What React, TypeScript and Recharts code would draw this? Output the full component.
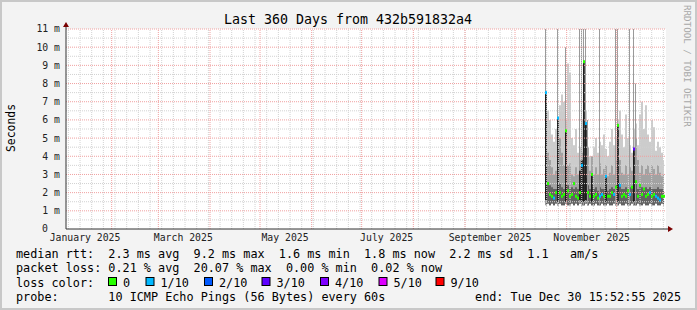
import React from 'react';
import { ComposedChart, Area, Bar, Scatter, XAxis, YAxis, CartesianGrid, ReferenceLine, ReferenceDot } from 'recharts';

// x = days since start of the 360-day window
const days = [288.0, 289.2, 290.4, 291.6, 292.8, 294.0, 295.2, 296.4, 297.6, 298.8,
  300.0, 301.2, 302.4, 303.6, 304.8, 306.0, 307.2, 308.4, 309.6, 310.8,
  312.0, 313.2, 314.4, 315.6, 316.8, 318.0, 319.2, 320.4, 321.6, 322.8,
  324.0, 325.2, 326.4, 327.6, 328.8, 330.0, 331.2, 332.4, 333.6, 334.8,
  336.0, 337.2, 338.4, 339.6, 340.8, 342.0, 343.2, 344.4, 345.6, 346.8,
  348.0, 349.2, 350.4, 351.6, 352.8, 354.0, 355.2, 356.4, 357.6, 358.8];

// smoke (ms)
const smokeLow = [1.3, 1.4, 1.3, 1.4, 1.3, 1.4, 1.3, 1.4, 1.3, 1.3,
  1.4, 1.3, 1.3, 1.4, 1.3, 1.4, 1.3, 1.4, 1.3, 1.3,
  1.4, 1.3, 1.4, 1.3, 1.3, 1.4, 1.3, 1.3, 1.4, 1.3,
  1.3, 1.4, 1.3, 1.3, 1.4, 1.3, 1.3, 1.4, 1.3, 1.3,
  1.4, 1.3, 1.3, 1.4, 1.3, 1.3, 1.4, 1.3, 1.3, 1.4,
  1.3, 1.3, 1.4, 1.3, 1.3, 1.4, 1.3, 1.3, 1.4, 1.3];
const smokeLight = [6.5, 6.5, 6.0, 5.2, 4.8, 5.5, 4.5, 6.8, 7.4, 7.0,
  6.0, 9.1, 8.6, 5.0, 4.6, 5.5, 4.2, 4.5, 6.0, 8.0,
  6.5, 4.5, 4.0, 3.8, 4.5, 5.0, 4.2, 4.8, 4.6, 5.2,
  4.4, 4.0, 4.8, 5.5, 4.6, 5.0, 6.0, 6.5, 5.2, 4.5,
  6.3, 5.0, 4.6, 4.2, 5.5, 5.8, 4.6, 6.3, 7.0, 5.5,
  6.8, 5.2, 4.8, 6.0, 5.6, 4.3, 4.8, 4.5, 4.2, 3.8];
const smokeMid = [4.0, 4.2, 3.8, 3.4, 3.0, 3.2, 3.6, 5.0, 4.2, 3.5,
  4.5, 3.5, 3.6, 3.0, 2.9, 3.4, 3.0, 3.8, 4.2, 5.5,
  4.8, 4.5, 3.2, 4.0, 3.0, 3.4, 3.0, 3.6, 3.0, 3.3,
  3.5, 2.9, 3.1, 3.5, 3.0, 3.8, 4.5, 3.8, 3.1, 3.0,
  3.5, 3.0, 3.4, 3.2, 4.2, 5.0, 3.8, 3.1, 3.5, 3.0,
  3.3, 3.5, 3.1, 3.5, 3.3, 3.0, 3.5, 3.1, 2.9, 3.0];
const smokeSpike = [11, null, null, null, null, null, 11, null, null, null,
  10, null, null, null, null, null, null, 11, 11, 11,
  11, 6.0, null, null, null, null, null, 11, null, null,
  null, null, null, null, null, 11, 11, null, null, null,
  null, null, 11, null, 11, 8.0, null, null, null, null,
  null, null, null, null, null, null, null, null, null, null];
const smokeDark = [2.6, 2.5, 2.4, 2.3, 2.2, 2.2, 2.4, 2.5, 2.3, 2.2,
  2.6, 2.4, 2.2, 2.3, 2.2, 2.3, 2.2, 2.4, 2.6, 3.0,
  2.8, 2.4, 2.2, 2.3, 2.2, 2.3, 2.1, 2.3, 2.2, 2.2,
  2.3, 2.1, 2.2, 2.3, 2.2, 2.5, 2.7, 2.5, 2.2, 2.2,
  2.3, 2.2, 2.3, 2.3, 2.6, 2.5, 2.2, 2.3, 2.3, 2.2,
  2.3, 2.2, 2.3, 2.2, 2.2, 2.2, 2.3, 2.2, 2.2, 2.1];
const coreLow = [1.6, null, null, null, null, null, 1.5, null, null, null,
  1.5, null, null, null, null, null, null, 1.6, 1.5, 1.5,
  1.6, null, null, 1.5, null, null, null, null, null, null,
  1.5, null, null, null, null, null, 1.5, null, null, null,
  null, null, null, null, 1.5, null, null, null, null, null,
  null, null, null, null, null, null, null, null, null, null];
const coreHigh = [7.5, null, null, null, null, null, 6.1, null, null, null,
  5.4, null, null, null, null, null, null, 3.2, 3.8, 9.2,
  5.8, null, null, 3.0, null, null, null, null, null, null,
  2.9, null, null, null, null, null, 5.7, null, null, null,
  null, null, null, null, 4.4, null, null, null, null, null,
  null, null, null, null, null, null, null, null, null, null];

const medianRtt = [7.5, 2.5, 1.9, 1.8, 1.7, 2.0, 6.1, 2.0, 1.8, 1.9,
  5.4, 2.1, 1.8, 1.9, 2.5, 1.8, 1.7, 2.0, 3.5, 9.2,
  5.8, 2.0, 1.8, 3.0, 1.8, 1.9, 1.7, 1.8, 1.9, 1.8,
  2.9, 1.8, 1.8, 2.0, 1.9, 2.3, 5.7, 2.4, 1.8, 1.9,
  1.8, 2.1, 1.9, 2.3, 4.4, 2.6, 1.8, 2.4, 1.9, 2.2,
  1.8, 1.9, 2.0, 1.8, 1.9, 1.8, 1.7, 1.6, 1.8, 1.8];
// index into lossColors
const lossLevel = [1, 0, 0, 0, 1, 0, 1, 0, 0, 0,
  0, 0, 0, 0, 0, 0, 0, 0, 1, 0,
  1, 0, 0, 0, 0, 0, 0, 1, 1, 0,
  1, 0, 0, 0, 1, 0, 0, 1, 0, 0,
  0, 0, 1, 0, 3, 0, 0, 0, 0, 0,
  0, 0, 1, 0, 0, 1, 1, 1, 0, 0];

const lossColors = ['#26ff00', '#00b8ff', '#0059ff', '#5e00ff', '#7e00ff', '#dd00ff', '#ff0000'];
const lossLabels = ['0', '1/10', '2/10', '3/10', '4/10', '5/10', '9/10'];

const yTicks = [0, 1, 2, 3, 4, 5, 6, 7, 8, 9, 10, 11];
const yHalf = [0.5, 1.5, 2.5, 3.5, 4.5, 5.5, 6.5, 7.5, 8.5, 9.5, 10.5];
const monthStarts = [27.4, 55.4, 86.4, 116.4, 147.4, 177.4, 208.4, 239.4, 269.4, 300.4, 330.4];
const weekLines = Array.from({ length: 52 }, (_, k) => 1.42 + 7 * k);
const monthLabelDays = [11.42, 70.4, 131.4, 192.4, 254.4, 315.4];
const monthLabels = ['January 2025', 'March 2025', 'May 2025', 'July 2025', 'September 2025', 'November 2025'];

const legendRtt = 'median rtt:  2.3 ms avg  9.2 ms max  1.6 ms min  1.8 ms now  2.2 ms sd  1.1   am/s';
const legendLoss = 'packet loss: 0.21 % avg  20.07 % max  0.00 % min  0.02 % now';
const probeText = 'probe:       10 ICMP Echo Pings (56 Bytes) every 60s';
const endText = 'end: Tue Dec 30 15:52:55 2025';
const titleText = 'Last 360 Days from 432b591832a4';

const W = 697;
const H = 310;
const mono = '"DejaVu Sans Mono", monospace';
const boxX = [108, 145.5, 204, 261.5, 320, 378.5, 435.5];

const YTick = (p: any) => {
  const v = p.payload.value;
  const label = v === 0 ? '0' : `${v} m`;
  const x = v === 0 ? p.x - 12 : p.x;
  return (
    <text x={x} y={p.y} dy="0.355em" textAnchor="end" fontFamily={mono} fontSize={9.8} fill="#222222">
      {label}
    </text>
  );
};

export default function App() {
  const table = days.map((day, i) => ({
    day,
    lo: smokeLow[i],
    light: smokeLight[i],
    mid: smokeMid[i],
    spike: smokeSpike[i],
    dark: smokeDark[i],
    coreLo: coreLow[i],
    coreHi: coreHigh[i],
  }));
  const medPts = days.map((day, i) => ({ day, med: medianRtt[i], color: lossColors[lossLevel[i]] }));

  return (
    <div style={{ position: 'absolute', left: 0, top: 0, width: W, height: H, background: '#f3f3f3', overflow: 'hidden' }}>
      <ComposedChart width={W} height={H} data={table} margin={{ top: 29, right: 31, bottom: 51, left: 10 }}>
        <CartesianGrid horizontal={false} vertical={false} fill="#ffffff" stroke="none" />
        <XAxis
          type="number"
          dataKey="day"
          domain={[0, 360]}
          ticks={monthLabelDays}
          interval={0}
          tickFormatter={(v) => monthLabels[monthLabelDays.indexOf(v)] ?? ''}
          tickLine={false}
          tickSize={0}
          tickMargin={5.5}
          axisLine={{ stroke: '#333333' }}
          tick={{ fontFamily: mono, fontSize: 9.8, fill: '#222222' }}
          height={30}
          allowDataOverflow
        />
        <XAxis xAxisId="spk" type="number" dataKey="day" domain={[0, 360]} hide allowDataOverflow />
        <YAxis
          type="number"
          domain={[0, 11]}
          ticks={yTicks}
          interval={0}
          tick={YTick}
          tickLine={false}
          tickSize={0}
          tickMargin={6}
          axisLine={{ stroke: '#333333' }}
          width={56}
          allowDataOverflow
        />
        <Area type="step" dataKey={(d) => [d.lo, d.light]} stroke="none" fill="#cccccc" fillOpacity={1} isAnimationActive={false} dot={false} activeDot={false} />
        <Area type="step" dataKey={(d) => [d.lo, d.mid]} stroke="none" fill="#a2a2a2" fillOpacity={1} isAnimationActive={false} dot={false} activeDot={false} />
        <Bar xAxisId="spk" dataKey={(d) => (d.spike == null ? null : [d.lo, d.spike])} barSize={1} fill="#9a9a9a" isAnimationActive={false} />
        <Area type="step" dataKey={(d) => [d.lo, d.dark]} stroke="none" fill="#626262" fillOpacity={1} isAnimationActive={false} dot={false} activeDot={false} />
        <Bar dataKey={(d) => (d.coreHi == null ? null : [d.coreLo, d.coreHi])} barSize={2} fill="#1c1c1c" isAnimationActive={false} />
        {weekLines.map((d) => (
          <ReferenceLine key={'w' + d} x={d} stroke="#d2d2d2" strokeDasharray="1 1" />
        ))}
        {yHalf.map((v) => (
          <ReferenceLine key={'h' + v} y={v} stroke="#d2d2d2" strokeDasharray="1 1" />
        ))}
        {monthStarts.map((d) => (
          <ReferenceLine key={'m' + d} x={d} stroke="#f0a0a0" strokeDasharray="1 1" />
        ))}
        {yTicks.filter((v) => v > 0).map((v) => (
          <ReferenceLine key={'y' + v} y={v} stroke="#f0a0a0" strokeDasharray="1 1" />
        ))}
        <Scatter
          data={medPts}
          dataKey="med"
          isAnimationActive={false}
          shape={(p: any) => <rect x={p.cx - 1} y={p.cy - 1.5} width={2} height={3} fill={p.payload.color} />}
        />
        <ReferenceDot
          x={0}
          y={11}
          r={0}
          ifOverflow="visible"
          shape={(p: any) => (
            <g>
              <line x1={p.cx} y1={p.cy} x2={p.cx} y2={p.cy - 4} stroke="#333333" />
              <path d={`M${p.cx - 3},${p.cy - 2} L${p.cx + 3},${p.cy - 2} L${p.cx},${p.cy - 7} Z`} fill="#7a0000" />
            </g>
          )}
        />
        <ReferenceDot
          x={360}
          y={0}
          r={0}
          ifOverflow="visible"
          shape={(p: any) => (
            <g>
              <line x1={p.cx} y1={p.cy} x2={p.cx + 4} y2={p.cy} stroke="#333333" />
              <path d={`M${p.cx + 2},${p.cy - 3} L${p.cx + 2},${p.cy + 3} L${p.cx + 7},${p.cy} Z`} fill="#7a0000" />
            </g>
          )}
        />
      </ComposedChart>
      <svg width={W} height={H} style={{ position: 'absolute', left: 0, top: 0, pointerEvents: 'none' }}>
        <rect x={1} y={1} width={W - 2} height={H - 2} fill="none" stroke="#c8c8c8" strokeWidth={2} />
        <text x={348} y={24} textAnchor="middle" fontFamily={mono} fontSize={13.3} fill="#000">{titleText}</text>
        <text x={15} y={128} textAnchor="middle" fontFamily={mono} fontSize={11.4} fill="#000" transform="rotate(-90 15 128)">Seconds</text>
        <text x={684} y={5} fontFamily={mono} fontSize={9.2} fill="#a8a8a8" transform="rotate(90 684 5)">RRDTOOL / TOBI OETIKER</text>
        <text x={16} y={258} fontFamily={mono} fontSize={11.8} fill="#000" style={{ whiteSpace: 'pre' }}>{legendRtt}</text>
        <text x={16} y={272} fontFamily={mono} fontSize={11.8} fill="#000" style={{ whiteSpace: 'pre' }}>{legendLoss}</text>
        <text x={16} y={286.5} fontFamily={mono} fontSize={11.8} fill="#000" style={{ whiteSpace: 'pre' }}>loss color:</text>
        {lossLabels.map((l, i) => (
          <g key={l}>
            <rect x={boxX[i] + 0.5} y={277.5} width={8} height={8} fill={lossColors[i]} stroke="#000" strokeWidth={1} />
            <text x={boxX[i] + 15} y={286.5} fontFamily={mono} fontSize={11.8} fill="#000">{l}</text>
          </g>
        ))}
        <text x={16} y={301} fontFamily={mono} fontSize={11.8} fill="#000" style={{ whiteSpace: 'pre' }}>{probeText}</text>
        <text x={681} y={301} textAnchor="end" fontFamily={mono} fontSize={11.8} fill="#000">{endText}</text>
      </svg>
    </div>
  );
}
